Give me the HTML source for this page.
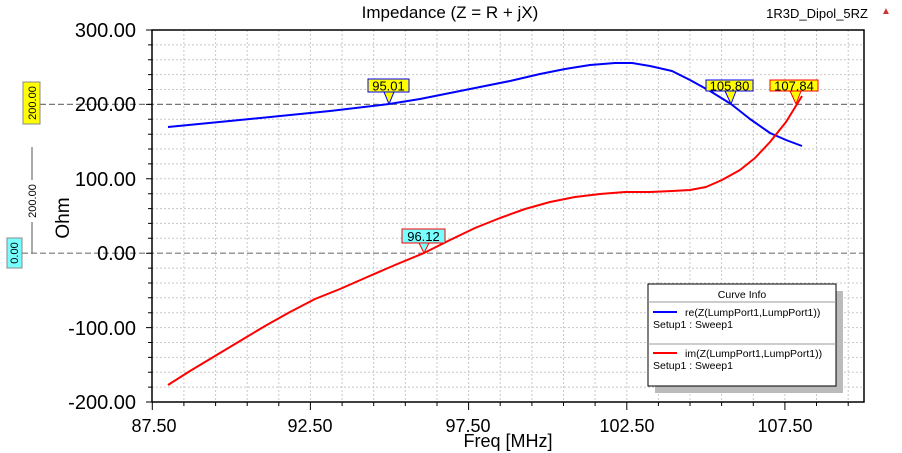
<!DOCTYPE html>
<html><head><meta charset="utf-8"><style>
html,body{margin:0;padding:0;background:#fff;}
svg{display:block;font-family:"Liberation Sans",Arial,sans-serif;}
</style></head><body>
<svg width="902" height="453" viewBox="0 0 902 453" xmlns="http://www.w3.org/2000/svg">
<rect width="902" height="453" fill="#fff"/>
<text x="450" y="18" font-size="17" text-anchor="middle" fill="#000">Impedance (Z = R + jX)</text>
<text x="868" y="18" font-size="13" text-anchor="end" fill="#000">1R3D_Dipol_5RZ</text>
<text x="886" y="14" font-size="10" fill="#c33" text-anchor="middle">▲</text>
<g stroke="#c8c8c8" stroke-width="1" stroke-dasharray="2,2">
<path d="M183.9 30V402M215.6 30V402M247.2 30V402M278.8 30V402M310.4 30V402M342.1 30V402M373.7 30V402M405.3 30V402M437 30V402M468.6 30V402M500.2 30V402M531.9 30V402M563.5 30V402M595.1 30V402M626.8 30V402M658.4 30V402M690 30V402M721.6 30V402M753.3 30V402M784.9 30V402M816.5 30V402M848.2 30V402"/>
<path d="M152 44.9H864M152 59.8H864M152 74.6H864M152 89.5H864M152 119.3H864M152 134.2H864M152 149H864M152 163.9H864M152 178.8H864M152 193.7H864M152 208.6H864M152 223.4H864M152 238.3H864M152 268.1H864M152 283H864M152 297.8H864M152 312.7H864M152 327.6H864M152 342.5H864M152 357.4H864M152 372.2H864M152 387.1H864"/>
</g>
<g stroke="#777" stroke-width="1.2" stroke-dasharray="6,3">
<path d="M40 104.4H864M22 253.2H864"/>
</g>
<path d="M152 30H864V402H152Z" fill="none" stroke="#000" stroke-width="1.5"/>
<g stroke="#000" stroke-width="1">
<path d="M146 30H152M146 104.4H152M146 178.8H152M146 253.2H152M146 327.6H152M146 402H152"/>
<path d="M148 44.9H152M148 59.8H152M148 74.6H152M148 89.5H152M148 119.3H152M148 134.2H152M148 149H152M148 163.9H152M148 193.7H152M148 208.6H152M148 223.4H152M148 238.3H152M148 268.1H152M148 283H152M148 297.8H152M148 312.7H152M148 342.5H152M148 357.4H152M148 372.2H152M148 387.1H152"/>
<path d="M152.3 402V410M310.4 402V410M468.6 402V410M626.8 402V410M784.9 402V410"/>
<path d="M183.9 402V406M215.6 402V406M247.2 402V406M278.8 402V406M342.1 402V406M373.7 402V406M405.3 402V406M437 402V406M500.2 402V406M531.9 402V406M563.5 402V406M595.1 402V406M658.4 402V406M690 402V406M721.6 402V406M753.3 402V406M816.5 402V406M848.2 402V406"/>
</g>
<g font-size="20" text-anchor="end" fill="#000">
<text x="136" y="37">300.00</text>
<text x="136" y="111">200.00</text>
<text x="136" y="186">100.00</text>
<text x="136" y="260">0.00</text>
<text x="136" y="335">-100.00</text>
<text x="136" y="409">-200.00</text>
</g>
<g font-size="18" text-anchor="middle" fill="#000">
<text x="154" y="432">87.50</text>
<text x="310" y="432">92.50</text>
<text x="468" y="432">97.50</text>
<text x="627" y="432">102.50</text>
<text x="785" y="432">107.50</text>
<text x="508" y="447">Freq [MHz]</text>
</g>
<text transform="translate(69,218) rotate(-90)" font-size="19" text-anchor="middle">Ohm</text>
<path d="M32 147V180M32 222V253.2" stroke="#555" stroke-width="1"/>
<text transform="translate(36,201) rotate(-90)" font-size="11" text-anchor="middle">200.00</text>
<rect x="23" y="82" width="17" height="42" fill="#ffff00" stroke="#888"/>
<text transform="translate(36,103) rotate(-90)" font-size="11" text-anchor="middle">200.00</text>
<rect x="7" y="238" width="15" height="30" fill="#7ff" stroke="#888"/>
<text transform="translate(18,253) rotate(-90)" font-size="11" text-anchor="middle">0.00</text>
<polyline fill="none" stroke="#0000ff" stroke-width="2" stroke-linejoin="round" points="168,127 250,119 330,111 389,104 420,99 450,93 480,87 510,81 540,74 565,69 590,65 615,63 632,63 650,66 672,71 690,80 710,91 731,104 750,119 770,133 786,140 802,146"/>
<polyline fill="none" stroke="#ff0000" stroke-width="2" stroke-linejoin="round" points="168,385 190,371 215,356 240,341 265,326 290,312 315,299 340,289 365,278 395,265 424,253 450,240 475,228 500,218 525,209 550,202 575,197 600,194 625,192 650,192 672,191 690,190 706,187 722,180 740,170 755,158 770,142 786,122 802,96"/>
<g font-size="13" text-anchor="middle">
<path d="M384 92L389 104L394 92" fill="#ff0" stroke="#00f"/>
<rect x="368" y="79" width="41" height="13" fill="#ff0" stroke="#00f"/>
<text x="388.5" y="90.5">95.01</text>
<path d="M419 243L424 253L429 243" fill="#7ff" stroke="#f00"/>
<rect x="402" y="229" width="43" height="14" fill="#7ff" stroke="#f00"/>
<text x="423.5" y="241">96.12</text>
<path d="M725 91L731 104L736 91" fill="#ff0" stroke="#00f"/>
<rect x="706" y="80" width="47" height="11" fill="#ff0" stroke="#00f"/>
<text x="729.5" y="90.5">105.80</text>
<path d="M790 91L796 104L801 91" fill="#ff0" stroke="#f00"/>
<rect x="770" y="80" width="48" height="11" fill="#ff0" stroke="#f00"/>
<text x="794" y="90.5">107.84</text>
</g>
<rect x="655" y="291" width="188" height="102" fill="#bbb"/>
<rect x="648" y="284" width="188" height="102" fill="#fff" stroke="#000" stroke-width="1"/>
<path d="M648 302H836M648 344H836" stroke="#999" stroke-width="1"/>
<text x="742" y="298" font-size="10.5" text-anchor="middle">Curve Info</text>
<g font-size="10.5">
<path d="M653 312H677" stroke="#00f" stroke-width="2"/>
<text x="685" y="316">re(Z(LumpPort1,LumpPort1))</text>
<text x="653" y="328">Setup1 : Sweep1</text>
<path d="M653 353H677" stroke="#f00" stroke-width="2"/>
<text x="685" y="357">im(Z(LumpPort1,LumpPort1))</text>
<text x="653" y="369">Setup1 : Sweep1</text>
</g>
</svg>
</body></html>
